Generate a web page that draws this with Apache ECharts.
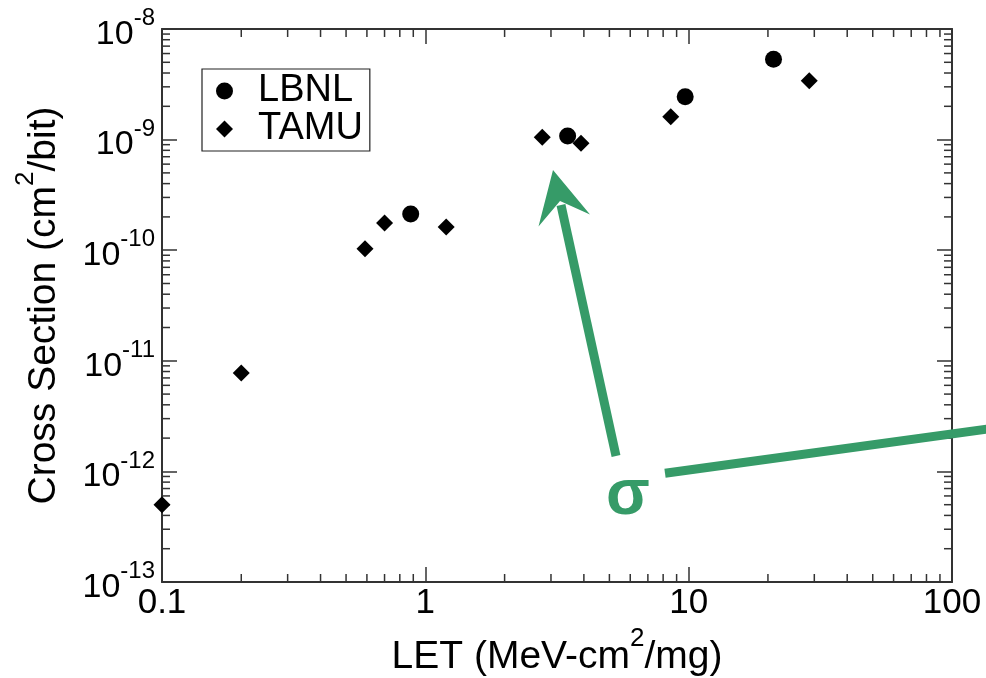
<!DOCTYPE html>
<html>
<head>
<meta charset="utf-8">
<title>Cross Section vs LET</title>
<script src="https://cdn.jsdelivr.net/npm/echarts@6/dist/echarts.min.js"></script>
<style>
  html, body { margin: 0; padding: 0; background: #fff; }
  #chart { width: 986px; height: 678px; }
</style>
</head>
<body>
<div id="chart"></div>
<script>
// LET (MeV-cm2/mg) and cross section (cm2/bit) per facility
const lbnlLet = [0.88, 3.47, 9.7, 21.0];
const lbnlSigma = [2.12e-10, 1.08e-9, 2.44e-9, 5.32e-9];
const tamuLet = [0.1, 0.2, 0.59, 0.7, 1.2, 2.78, 3.9, 8.55, 28.7];
const tamuSigma = [5.0e-13, 7.76e-12, 1.03e-10, 1.76e-10, 1.62e-10, 1.05e-9, 9.25e-10, 1.61e-9, 3.41e-9];

// Axis ranges and tick labels
const xMin = 0.1, xMax = 100;
const yMin = 1e-13, yMax = 1e-8;
const xTickValues = [0.1, 1, 10, 100];
const xTickLabels = ['0.1', '1', '10', '100'];
const yTickValues = [1e-13, 1e-12, 1e-11, 1e-10, 1e-9, 1e-8];
const yTickExponents = ['-13', '-12', '-11', '-10', '-9', '-8'];

// Minor tick positions inside each decade
const xMinorTicks = [0.2, 0.3, 0.4, 0.5, 0.6, 0.7, 0.8, 0.9,
                     2, 3, 4, 5, 6, 7, 8, 9,
                     20, 30, 40, 50, 60, 70, 80, 90];
const yMinorTicks = [2e-13, 3e-13, 4e-13, 5e-13, 6e-13, 7e-13, 8e-13, 9e-13,
                     2e-12, 3e-12, 4e-12, 5e-12, 6e-12, 7e-12, 8e-12, 9e-12,
                     2e-11, 3e-11, 4e-11, 5e-11, 6e-11, 7e-11, 8e-11, 9e-11,
                     2e-10, 3e-10, 4e-10, 5e-10, 6e-10, 7e-10, 8e-10, 9e-10,
                     2e-9, 3e-9, 4e-9, 5e-9, 6e-9, 7e-9, 8e-9, 9e-9];

const FONT = '"Liberation Sans", Arial, Helvetica, sans-serif';
const GREEN = '#369b68';
const AXIS_COLOR = '#333';
const MAJOR_LEN = 15;
const MINOR_LEN = 8;

function nearestIndex(values, v) {
  let best = 0, bestD = Infinity;
  values.forEach((t, i) => {
    const d = Math.abs(Math.log10(t) - Math.log10(v));
    if (d < bestD) { bestD = d; best = i; }
  });
  return best;
}

const zip = (xs, ys) => xs.map((x, i) => [x, ys[i]]);

const chart = echarts.init(document.getElementById('chart'), null, { renderer: 'canvas' });

const frameAxis = {
  type: 'log',
  logBase: 10,
  axisLine: { show: true, lineStyle: { color: AXIS_COLOR, width: 2 } },
  axisTick: { show: true, inside: true, length: MAJOR_LEN, lineStyle: { color: AXIS_COLOR, width: 1.5 } },
  splitLine: { show: false },
  minorTick: { show: false },
  minorSplitLine: { show: false }
};

// superscript-capable name style
const nameRich = {
  n: { fontFamily: FONT, fontSize: 39, color: '#000', lineHeight: 39, padding: [12, 0, 0, 0] },
  s: { fontFamily: FONT, fontSize: 26, color: '#000', lineHeight: 26, padding: [0, 0, 25, 0] }
};

const option = {
  animation: false,
  backgroundColor: '#fff',
  textStyle: { fontFamily: FONT },
  grid: { left: 162, right: 34, top: 29, bottom: 96, containLabel: false, outerBoundsMode: 'none' },
  legend: {
    orient: 'vertical',
    left: 202,
    top: 69,
    padding: [3, 7, 3, 14],
    itemGap: 0,
    itemWidth: 17,
    itemHeight: 17,
    borderColor: '#222',
    borderWidth: 1.2,
    backgroundColor: '#fff',
    selectedMode: false,
    textStyle: { fontFamily: FONT, fontSize: 38, color: '#000', padding: [0, 0, 0, 20] },
    data: [
      { name: 'LBNL', icon: 'circle', itemStyle: { color: '#000', opacity: 1 } },
      { name: 'TAMU', icon: 'diamond', itemStyle: { color: '#000', opacity: 1 } }
    ]
  },
  xAxis: [
    Object.assign({}, frameAxis, {
      position: 'bottom',
      min: xMin, max: xMax,
      splitNumber: 3,
      name: '{n|LET (MeV-cm}{s|2}{n|/mg)}',
      nameLocation: 'middle',
      nameGap: 40,
      nameTextStyle: { rich: nameRich },
      axisLabel: {
        show: true,
        margin: 4,
        fontFamily: FONT,
        fontSize: 35,
        color: '#000',
        formatter: v => xTickLabels[nearestIndex(xTickValues, v)]
      }
    }),
    Object.assign({}, frameAxis, {
      position: 'top',
      min: xMin, max: xMax,
      splitNumber: 3,
      axisLabel: { show: false }
    })
  ],
  yAxis: [
    Object.assign({}, frameAxis, {
      position: 'left',
      min: yMin, max: yMax,
      splitNumber: 5,
      name: '{n|Cross Section (cm}{s|2}{n|/bit)}',
      nameLocation: 'middle',
      nameGap: 104,
      nameRotate: 90,
      nameTextStyle: { rich: nameRich },
      axisLabel: {
        show: true,
        margin: 7,
        formatter: v => '{b|10}{s|' + yTickExponents[nearestIndex(yTickValues, v)] + '}',
        rich: {
          b: { fontFamily: FONT, fontSize: 34, color: '#000', lineHeight: 34, padding: [11, 0, 0, 0] },
          s: { fontFamily: FONT, fontSize: 24, color: '#000', lineHeight: 24, padding: [0, 0, 21, 0] }
        }
      }
    }),
    Object.assign({}, frameAxis, {
      position: 'right',
      min: yMin, max: yMax,
      splitNumber: 5,
      axisLabel: { show: false }
    })
  ],
  series: [
    {
      name: 'LBNL',
      type: 'scatter',
      symbol: 'circle',
      symbolSize: 17,
      itemStyle: { color: '#000', opacity: 1 },
      data: zip(lbnlLet, lbnlSigma),
      z: 5
    },
    {
      name: 'TAMU',
      type: 'scatter',
      symbol: 'diamond',
      symbolSize: 17,
      itemStyle: { color: '#000', opacity: 1 },
      data: zip(tamuLet, tamuSigma),
      z: 5
    },
    {
      // minor ticks on bottom and top frame edges
      name: 'xMinor',
      type: 'custom',
      silent: true,
      clip: false,
      data: xMinorTicks.map(v => [v, yMin]),
      renderItem: (params, api) => {
        const v = api.value(0);
        const b = api.coord([v, yMin]);
        const t = api.coord([v, yMax]);
        const style = { stroke: AXIS_COLOR, lineWidth: 1.5 };
        return {
          type: 'group',
          children: [
            { type: 'line', shape: { x1: b[0], y1: b[1], x2: b[0], y2: b[1] - MINOR_LEN }, style },
            { type: 'line', shape: { x1: t[0], y1: t[1], x2: t[0], y2: t[1] + MINOR_LEN }, style }
          ]
        };
      }
    },
    {
      // minor ticks on left and right frame edges
      name: 'yMinor',
      type: 'custom',
      silent: true,
      clip: false,
      data: yMinorTicks.map(v => [xMin, v]),
      renderItem: (params, api) => {
        const v = api.value(1);
        const l = api.coord([xMin, v]);
        const r = api.coord([xMax, v]);
        const style = { stroke: AXIS_COLOR, lineWidth: 1.5 };
        return {
          type: 'group',
          children: [
            { type: 'line', shape: { x1: l[0], y1: l[1], x2: l[0] + MINOR_LEN, y2: l[1] }, style },
            { type: 'line', shape: { x1: r[0], y1: r[1], x2: r[0] - MINOR_LEN, y2: r[1] }, style }
          ]
        };
      }
    }
  ],
  graphic: [
    // sigma annotation with its pointer lines
    {
      type: 'line',
      z: 100,
      shape: { x1: 616, y1: 456, x2: 561, y2: 205 },
      style: { stroke: GREEN, lineWidth: 9, lineCap: 'butt' }
    },
    {
      type: 'polygon',
      z: 100,
      shape: { points: [[553, 170], [590, 214.5], [560, 201], [538.5, 226.5]] },
      style: { fill: GREEN }
    },
    {
      type: 'line',
      z: 100,
      shape: { x1: 665, y1: 473.3, x2: 1000, y2: 427.4 },
      style: { stroke: GREEN, lineWidth: 9, lineCap: 'butt' }
    },
    {
      type: 'text',
      z: 100,
      style: {
        text: 'σ',
        x: 628,
        y: 496,
        align: 'center',
        verticalAlign: 'middle',
        font: 'bold 64px ' + FONT,
        fill: GREEN
      }
    }
  ]
};

chart.setOption(option);
</script>
</body>
</html>
